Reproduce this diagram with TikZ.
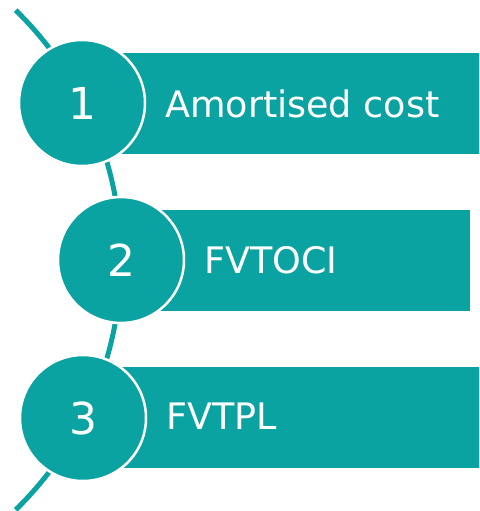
\documentclass[tikz,border=0pt]{standalone}
\usepackage{fontspec}
\setmainfont{DejaVu Sans}
\definecolor{teal1}{RGB}{11,162,162}
\begin{document}
\begin{tikzpicture}[x=1pt,y=-1pt,
  numcirc/.style={circle,fill=teal1,draw=white,line width=2.5pt,minimum size=126pt,inner sep=0pt,
    text=white,font=\fontsize{44}{48}\selectfont},
  bar/.style={fill=teal1,draw=none},
  lbl/.style={anchor=base west,text=white,inner sep=0pt,font=\fontsize{36.5}{40}\selectfont},
  spine/.style={draw=teal1,line width=5pt}]
\useasboundingbox (0,0) rectangle (479,511);
\coordinate (ac) at (-228,260);
\draw[spine] (ac) ++(-45.7:349) arc[start angle=-45.7,end angle=45.7,radius=349];
\fill[bar] (82,53) rectangle (479,154);
\fill[bar] (121,210) rectangle (470,311);
\fill[bar] (83,367) rectangle (479,468);
\node[numcirc] (c1) at (82,103) {1};
\node[numcirc] (c2) at (121,260) {2};
\node[numcirc] (c3) at (83,418) {3};
\node[lbl] (t1) at (165,117) {Amortised cost};
\node[lbl] (t2) at (204,273) {FVTOCI};
\node[lbl] (t3) at (166,429) {FVTPL};
\end{tikzpicture}
\end{document}
